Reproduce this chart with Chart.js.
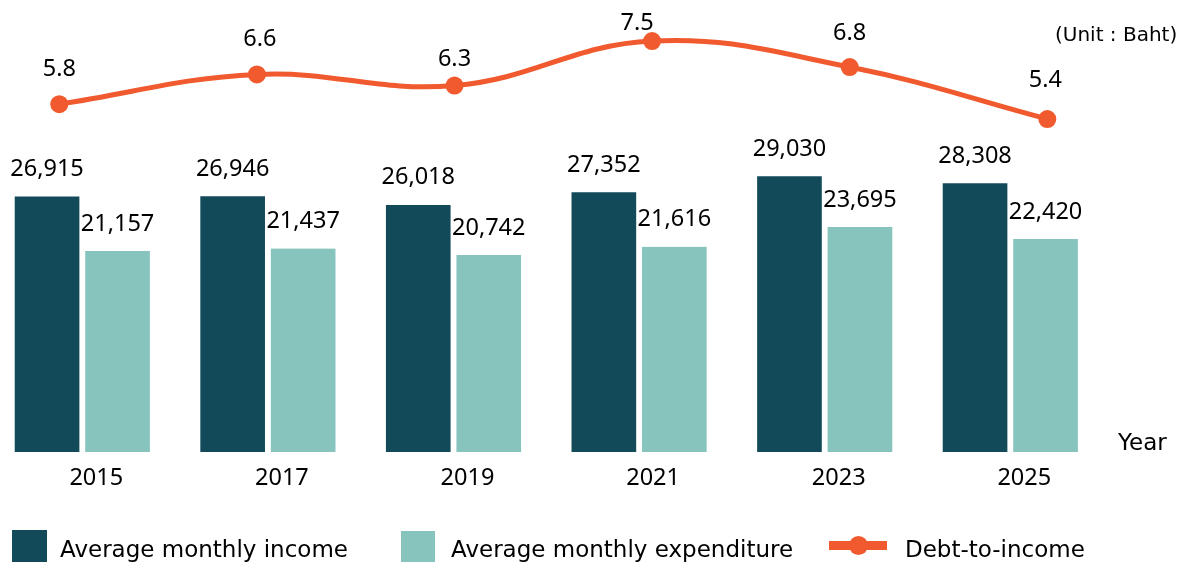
<!DOCTYPE html>
<html>
<head>
<meta charset="utf-8">
<script src="https://cdn.jsdelivr.net/npm/chart.js@4.4.1/dist/chart.umd.min.js"></script>
<style>
  html, body { margin: 0; padding: 0; background: #fff; overflow: hidden; }
  #wrap { position: relative; width: 1194px; height: 562px; }
  #chart { position: absolute; left: 0; top: 0; }
  .txt { position: absolute; font-family: 'DejaVu Sans', sans-serif; color: #000; line-height: 1; white-space: nowrap; }
  .sw { position: absolute; }
</style>
</head>
<body>
<div id="wrap">
  <canvas id="chart" width="1194" height="562"></canvas>

  <div class="txt" style="left:1055px; top:24px; font-size:20px;">(Unit : Baht)</div>
  <div class="txt" style="left:1118px; top:431px; font-size:23px;">Year</div>

  <!-- legend -->
  <div class="sw" style="left:12px; top:530px; width:35px; height:35px; background:#134A5A;"></div>
  <div class="txt" style="left:60px; top:538px; font-size:23px;">Average monthly income</div>
  <div class="sw" style="left:401px; top:531px; width:34px; height:35px; background:#87C4BE;"></div>
  <div class="txt" style="left:451px; top:538px; font-size:23px;">Average monthly expenditure</div>
  <div class="sw" style="left:829px; top:541px; width:58px; height:9px; background:#F15A2F;"></div>
  <div class="sw" style="left:849px; top:536px; width:19px; height:19px; border-radius:50%; background:#F15A2F;"></div>
  <div class="txt" style="left:905px; top:538px; font-size:23px;">Debt-to-income</div>
</div>

<script>
// Survey years
const years = [2015, 2017, 2019, 2021, 2023, 2025];
// Average monthly income per household (Baht)
const income = [26915, 26946, 26018, 27352, 29030, 28308];
// Average monthly expenditure per household (Baht)
const expenditure = [21157, 21437, 20742, 21616, 23695, 22420];
// Debt-to-income ratio
const debtToIncome = [5.8, 6.6, 6.3, 7.5, 6.8, 5.4];

const INCOME_COLOR = '#134A5A';
const EXPENSE_COLOR = '#87C4BE';
const DEBT_COLOR = '#F15A2F';
const NUM_FONT = '"Noto Sans", sans-serif';

const toPoints = arr => arr.map((v, i) => ({ x: years[i], y: v }));

// Value labels above every bar and line point
const valueLabels = {
  id: 'valueLabels',
  afterDatasetsDraw(chart, args, opts) {
    const ctx = chart.ctx;
    ctx.save();
    ctx.fillStyle = '#000';
    ctx.textAlign = 'center';
    ctx.textBaseline = 'alphabetic';
    ctx.font = '23.5px ' + NUM_FONT;
    chart.data.datasets.forEach((ds, i) => {
      const meta = chart.getDatasetMeta(i);
      const isLine = ds.type === 'line';
      meta.data.forEach((el, j) => {
        const v = ds.data[j].y;
        const text = isLine ? v.toFixed(1) : v.toLocaleString('en-US');
        const lift = isLine ? opts.lineLift[j] : opts.barLift;
        const shift = isLine ? opts.lineShift[j] : 0;
        ctx.fillText(text, el.x + shift, el.y - lift);
      });
    });
    ctx.restore();
  }
};

// bars are 64px wide with a white edge on each side leaving a 6.5px gap
const barStyle = {
  borderWidth: { left: 3.25, right: 3.25, top: 0, bottom: 0 },
  borderColor: '#ffffff',
  borderSkipped: false,
  barThickness: 70.5,
  order: 1
};

new Chart(document.getElementById('chart'), {
  data: {
    datasets: [
      {
        type: 'line',
        label: 'Debt-to-income',
        data: toPoints(debtToIncome),
        xAxisID: 'x2',
        yAxisID: 'y2',
        borderColor: DEBT_COLOR,
        backgroundColor: DEBT_COLOR,
        borderWidth: 5,
        tension: 0.4,
        pointRadius: 9,
        pointBackgroundColor: DEBT_COLOR,
        pointBorderWidth: 0,
        fill: false,
        clip: false,
        order: 0
      },
      Object.assign({
        type: 'bar',
        label: 'Average monthly income',
        data: toPoints(income),
        xAxisID: 'x',
        yAxisID: 'y',
        backgroundColor: INCOME_COLOR
      }, barStyle),
      Object.assign({
        type: 'bar',
        label: 'Average monthly expenditure',
        data: toPoints(expenditure),
        xAxisID: 'x',
        yAxisID: 'y',
        backgroundColor: EXPENSE_COLOR
      }, barStyle)
    ]
  },
  options: {
    responsive: false,
    animation: false,
    devicePixelRatio: 1,
    layout: { padding: 0, autoPadding: false },
    plugins: {
      legend: { display: false },
      tooltip: { enabled: false },
      valueLabels: {
        barLift: 20.5,
        lineLift: [28, 28, 20, 11, 27, 32],
        lineShift: [0, 3, 0, -15, 0, -2]
      }
    },
    scales: {
      x: {
        type: 'linear',
        position: 'bottom',
        offset: false,
        min: 2014.1131,
        max: 2026.9795,
        afterBuildTicks: s => { s.ticks = years.map(v => ({ value: v })); },
        afterFit: s => { s.height = 110; },
        grid: { display: false, offset: false },
        border: { display: false },
        ticks: {
          callback: v => String(v),
          color: '#000',
          font: { family: NUM_FONT, size: 23.5 },
          padding: 4,
          labelOffset: 14,
          maxRotation: 0,
          autoSkip: false
        }
      },
      x2: {
        type: 'linear',
        display: false,
        offset: false,
        min: 2014.3998,
        max: 2026.4848
      },
      y: {
        display: false,
        min: 0,
        max: 47604
      },
      y2: {
        display: false,
        min: -3.565,
        max: 8.605
      }
    }
  },
  plugins: [valueLabels]
});
</script>
</body>
</html>
